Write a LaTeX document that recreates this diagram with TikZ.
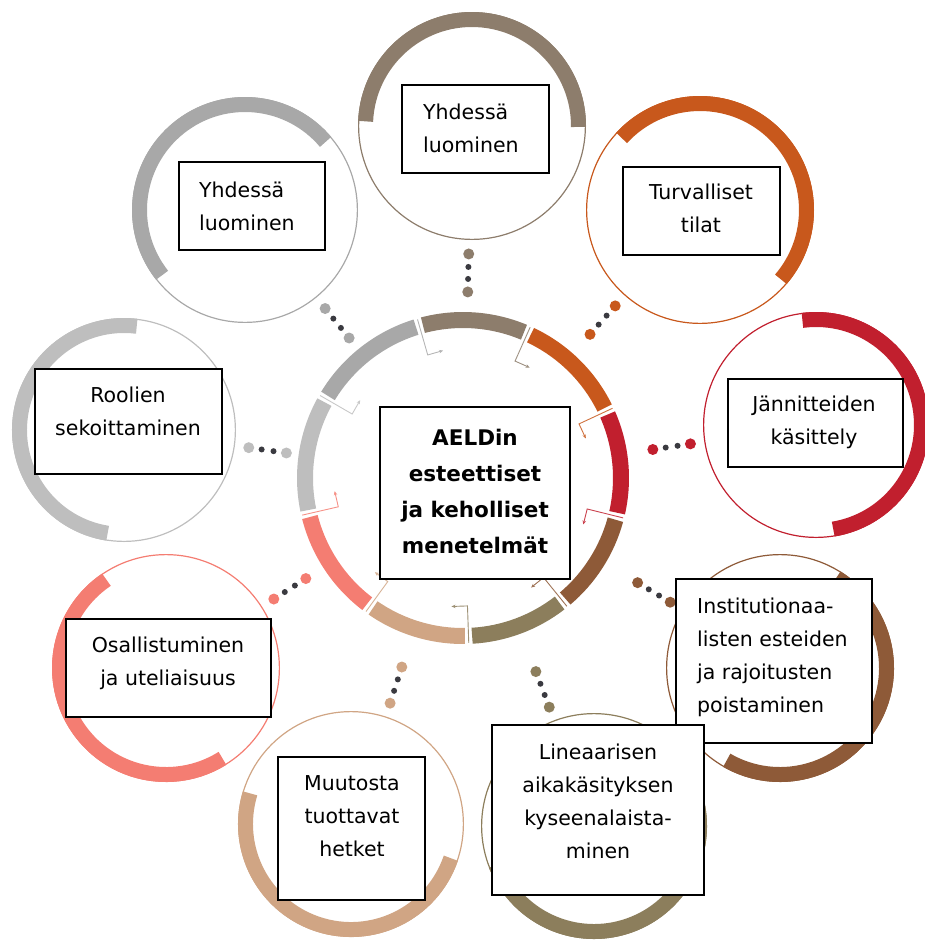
\documentclass[tikz,border=0pt]{standalone}
\usepackage{fontspec}
\setmainfont{DejaVu Sans}
\usetikzlibrary{arrows.meta,calc}

\definecolor{cTaupe}{HTML}{8D7D6C}
\definecolor{cOrange}{HTML}{C8581C}
\definecolor{cCrimson}{HTML}{C11F2E}
\definecolor{cBrown}{HTML}{8E5A38}
\definecolor{cOlive}{HTML}{8C7E5C}
\definecolor{cTan}{HTML}{D0A584}
\definecolor{cSalmon}{HTML}{F47D72}
\definecolor{cLgray}{HTML}{BEBEBE}
\definecolor{cGray}{HTML}{A8A8A8}
\definecolor{cDot}{HTML}{3A3A40}

\tikzset{
  obox/.style={draw=black, line width=1.2pt, fill=white, inner sep=0pt},
  otext/.style={font=\fontsize{20.5}{33}\selectfont, inner sep=0pt},
  cbox/.style={draw=black, line width=1.8pt, fill=white, inner sep=0pt},
  ctext/.style={font=\bfseries\fontsize{21.5}{36}\selectfont, inner sep=0pt, align=center},
  thin ring/.style={line width=1.2pt},
  thick band/.style={line width=15pt},
  bigdot/.style={radius=5.5},
  smalldot/.style={radius=3},
  bracket/.style={line width=0.9pt, -{Stealth[length=4pt,width=3.5pt]}}
}

\begin{document}
\begin{tikzpicture}[x=1pt,y=-1pt]
\useasboundingbox (0,0) rectangle (925,940);
\coordinate (C) at (463,478);

% outer circles
\foreach \n/\px/\py/\r/\d/\col in {
  a/472/126/114/-88.5/cTaupe,
  b/700/210/114/-48.4/cOrange,
  c/816/425/113/-8.4/cCrimson,
  d/780/668/114/31/cBrown,
  e/594/826/113/69.4/cOlive,
  f/351/824/113/107.9/cTan,
  g/166/668/114/147/cSalmon,
  h/124/430/112/188/cLgray,
  i/245/210/113/230.8/cGray} {
  \coordinate (P\n) at (\px,\py);
  \draw[\col, thin ring] (P\n) circle[radius=\r-0.6];
  \draw[\col, thick band] ($(P\n)+(\d-89:\r-7.5)$) arc[start angle=\d-89, end angle=\d+89, radius=\r-7.5];
  \pgfmathsetmacro{\dA}{\r+14}
  \pgfmathsetmacro{\dB}{\r+27}
  \pgfmathsetmacro{\dC}{\r+39}
  \pgfmathsetmacro{\dD}{\r+52}
  \fill[\col] ($(P\n)!\dA pt!(C)$) circle[bigdot];
  \fill[cDot] ($(P\n)!\dB pt!(C)$) circle[smalldot];
  \fill[cDot] ($(P\n)!\dC pt!(C)$) circle[smalldot];
  \fill[\col] ($(P\n)!\dD pt!(C)$) circle[bigdot];
}

% central ring
\foreach \a/\b/\col in {-106/-66/cTaupe, -66/-25/cOrange, -25/14/cCrimson, 14/51/cBrown, 51/88/cOlive, 88/126/cTan, 126/167/cSalmon, 167/210/cLgray, 210/254/cGray} {
  \pgfmathsetmacro{\sa}{\a+1.3}
  \pgfmathsetmacro{\eb}{\b-1.3}
  \draw[\col, line width=16pt] ($(C)+(\sa:158)$) arc[start angle=\sa, end angle=\eb, radius=158];
}

% bracket arrows at the gaps
\foreach \g/\col in {-106/cGray, -66/cTaupe, -25/cOrange, 14/cCrimson, 51/cBrown, 88/cOlive, 126/cTan, 167/cSalmon, 210/cLgray} {
  \draw[\col!85, bracket] ($(C)+(\g:165)$) -- ($(C)+(\g:128)$) -- ++(\g+90:16);
}

% boxes and texts
\node[obox, minimum width=147pt, minimum height=88pt] (ba) at (475.5,129) {};
\node[otext, align=left, anchor=west] (ta) at (423,128) {Yhdessä\\luominen};

\node[obox, minimum width=157pt, minimum height=88pt] (bb) at (701.5,211) {};
\node[otext, align=center] (tb) at (701,208) {Turvalliset\\tilat};

\node[obox, minimum width=175pt, minimum height=88pt] (bc) at (815.5,423) {};
\node[otext, align=center] (tc) at (814,422) {Jännitteiden\\käsittely};

\node[obox, minimum width=196pt, minimum height=164pt] (bd) at (774,661) {};
\node[otext, align=left, anchor=west] (td) at (697,657) {Institutionaa-\\listen esteiden\\ja rajoitusten\\poistaminen};

\node[obox, minimum width=212pt, minimum height=170pt] (be) at (598,810) {};
\node[otext, align=center] (te) at (598,801) {Lineaarisen\\aikakäsityksen\\kyseenalaista-\\minen};

\node[obox, minimum width=147pt, minimum height=143pt] (bf) at (351.5,828.5) {};
\node[otext, align=center] (tf) at (352,816) {Muutosta\\tuottavat\\hetket};

\node[obox, minimum width=205pt, minimum height=98pt] (bg) at (168.5,668) {};
\node[otext, align=center] (tg) at (168,663) {Osallistuminen\\ja uteliaisuus};

\node[obox, minimum width=187pt, minimum height=105pt] (bh) at (128.5,421.5) {};
\node[otext, align=center] (th) at (128,411) {Roolien\\sekoittaminen};

\node[obox, minimum width=146pt, minimum height=88pt] (bi) at (252,206) {};
\node[otext, align=left, anchor=west] (ti) at (199,206) {Yhdessä\\luominen};

\node[cbox, minimum width=190pt, minimum height=172pt] (cb) at (475,493) {};
\node[ctext] (ct) at (475,491) {AELDin\\esteettiset\\ja keholliset\\menetelmät};
\end{tikzpicture}
\end{document}
